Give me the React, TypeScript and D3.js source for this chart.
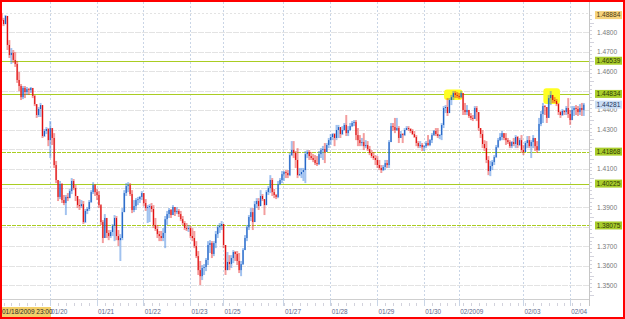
import React from 'react';
import * as d3 from 'd3';

// Hourly EUR/USD-style bars, 01/18/2009 23:00 .. 02/04/2009
const firstOpen = 1.4894;
const closes = [
  1.4863,1.4842,1.4884,1.4735,1.4683,1.4694,1.4658,1.4637,1.4555,1.4524,1.4467,1.4514,1.4493,1.4508,1.4503,1.4514,1.4473,1.4431,1.4375,1.4406,1.4426,1.4267,1.4293,1.4303,1.4246,
  1.4308,1.4257,1.4118,1.4041,1.3954,1.4020,1.3938,1.3923,1.3954,1.3948,1.3984,1.4036,1.4000,1.3959,1.3912,1.3907,1.3917,1.3825,1.3882,1.3892,1.3928,1.3979,1.4015,1.3979,
  1.3964,1.3912,1.3825,1.3743,1.3846,1.3769,1.3753,1.3774,1.3805,1.3846,1.3753,1.3732,1.3743,1.3876,1.3974,1.4010,1.4015,1.3969,1.3887,1.3907,1.3938,1.3943,1.3954,1.3974,
  1.3923,1.3897,1.3902,1.3907,1.3892,1.3810,1.3789,1.3763,1.3753,1.3743,1.3769,1.3840,1.3866,1.3887,1.3861,1.3902,1.3876,1.3882,1.3866,1.3840,1.3820,1.3794,1.3789,1.3794,
  1.3753,1.3743,1.3702,1.3650,1.3578,1.3547,1.3589,1.3594,1.3630,1.3707,1.3717,1.3661,1.3717,1.3763,1.3799,1.3805,1.3815,
  1.3707,1.3578,1.3620,1.3609,1.3640,1.3671,1.3661,1.3625,1.3578,1.3609,1.3681,1.3743,1.3799,1.3851,1.3876,1.3825,1.3917,1.3933,1.3907,1.3959,1.3943,1.3912,1.3979,1.4000,1.4041,1.3979,1.3964,1.3954,1.4020,1.4041,1.4071,
  1.4082,1.4077,1.4066,1.4169,1.4195,1.4180,1.4144,1.4066,1.4071,1.4082,1.4092,1.4174,1.4185,1.4164,1.4154,1.4144,1.4128,1.4123,1.4174,1.4195,1.4200,1.4185,1.4221,1.4246,
  1.4262,1.4277,1.4257,1.4298,1.4313,1.4277,1.4298,1.4324,1.4282,1.4298,1.4318,1.4334,1.4339,1.4272,1.4246,1.4231,1.4236,1.4215,1.4221,1.4200,1.4180,1.4164,1.4154,1.4144,
  1.4118,1.4103,1.4092,1.4108,1.4128,1.4118,1.4236,1.4318,1.4313,1.4298,1.4308,1.4257,1.4277,1.4272,1.4298,1.4308,1.4303,1.4293,1.4277,1.4262,1.4231,1.4215,1.4221,1.4210,
  1.4215,1.4231,1.4221,1.4246,1.4272,1.4293,1.4277,1.4267,1.4272,1.4324,1.4411,1.4416,1.4385,1.4452,1.4467,1.4488,1.4478,1.4473,
  1.4467,1.4488,1.4401,1.4390,1.4401,1.4370,1.4360,1.4355,1.4411,1.4390,1.4308,1.4277,1.4226,1.4205,1.4144,1.4087,1.4113,1.4133,1.4159,1.4210,1.4246,1.4262,1.4282,1.4257,1.4246,1.4236,1.4215,1.4236,1.4226,1.4262,1.4221,1.4246,1.4195,
  1.4185,1.4231,1.4246,1.4215,1.4236,1.4257,1.4215,1.4195,1.4329,1.4380,1.4421,1.4416,1.4360,1.4462,1.4478,1.4452,1.4447,1.4431,1.4390,1.4375,1.4396,1.4390,1.4411,1.4380,
  1.4349,1.4401,1.4411,1.4406,1.4390,1.4411,1.4401,1.4428,
];
const highs = [
  1.4900,1.4874,1.4889,1.4884,1.4760,1.4719,1.4709,1.4699,1.4653,1.4596,1.4534,1.4524,1.4524,1.4519,1.4514,1.4519,1.4508,1.4478,1.4431,1.4416,1.4437,1.4426,1.4303,1.4313,1.4308,
  1.4344,1.4298,1.4282,1.4139,1.4041,1.4036,1.4025,1.3964,1.3964,1.3974,1.3995,1.4051,1.4046,1.4015,1.3959,1.3943,1.3938,1.3933,1.3892,1.3902,1.3938,1.3989,1.4030,1.4020,
  1.3995,1.3984,1.3917,1.3835,1.3866,1.3846,1.3784,1.3784,1.3815,1.3861,1.3856,1.3784,1.3763,1.3897,1.3989,1.4025,1.4030,1.4025,1.3989,1.3938,1.3948,1.3954,1.3959,1.3984,
  1.3974,1.3943,1.3912,1.3917,1.3923,1.3912,1.3846,1.3810,1.3779,1.3779,1.3794,1.3856,1.3882,1.3897,1.3892,1.3912,1.3902,1.3902,1.3892,1.3882,1.3856,1.3830,1.3820,1.3810,
  1.3805,1.3794,1.3779,1.3727,1.3676,1.3625,1.3604,1.3609,1.3640,1.3727,1.3732,1.3727,1.3727,1.3779,1.3810,1.3820,1.3830,
  1.3815,1.3707,1.3671,1.3655,1.3655,1.3681,1.3676,1.3676,1.3666,1.3625,1.3691,1.3758,1.3810,1.3861,1.3897,1.3897,1.3933,1.3948,1.3948,1.3989,1.3969,1.3943,1.3989,1.4010,1.4066,1.4051,1.3995,1.3969,1.4036,1.4051,1.4087,
  1.4087,1.4092,1.4092,1.4180,1.4241,1.4241,1.4190,1.4205,1.4103,1.4103,1.4103,1.4190,1.4195,1.4195,1.4185,1.4174,1.4169,1.4164,1.4190,1.4205,1.4216,1.4231,1.4231,1.4257,
  1.4277,1.4282,1.4282,1.4324,1.4324,1.4308,1.4318,1.4334,1.4375,1.4318,1.4334,1.4344,1.4349,1.4349,1.4308,1.4272,1.4257,1.4282,1.4246,1.4241,1.4216,1.4195,1.4185,1.4169,
  1.4164,1.4144,1.4118,1.4118,1.4144,1.4144,1.4246,1.4334,1.4334,1.4360,1.4360,1.4318,1.4293,1.4282,1.4308,1.4318,1.4318,1.4308,1.4303,1.4293,1.4272,1.4241,1.4241,1.4231,
  1.4221,1.4241,1.4272,1.4251,1.4282,1.4298,1.4308,1.4308,1.4277,1.4334,1.4421,1.4426,1.4462,1.4462,1.4478,1.4498,1.4498,1.4493,
  1.4488,1.4498,1.4488,1.4437,1.4426,1.4396,1.4385,1.4375,1.4421,1.4421,1.4360,1.4308,1.4298,1.4246,1.4241,1.4164,1.4139,1.4144,1.4169,1.4221,1.4257,1.4282,1.4293,1.4282,1.4282,1.4257,1.4246,1.4241,1.4257,1.4272,1.4267,1.4257,1.4272,
  1.4221,1.4241,1.4267,1.4267,1.4246,1.4272,1.4257,1.4241,1.4360,1.4396,1.4437,1.4426,1.4411,1.4478,1.4498,1.4473,1.4467,1.4457,1.4437,1.4396,1.4406,1.4401,1.4421,1.4462,
  1.4401,1.4421,1.4421,1.4426,1.4421,1.4431,1.4437,1.4437,
];
const lows = [
  1.4858,1.4832,1.4842,1.4709,1.4668,1.4637,1.4643,1.4622,1.4540,1.4498,1.4452,1.4457,1.4462,1.4478,1.4478,1.4488,1.4462,1.4421,1.4360,1.4365,1.4365,1.4257,1.4262,1.4277,1.4215,
  1.4154,1.4221,1.4103,1.4025,1.3933,1.3943,1.3923,1.3912,1.3861,1.3933,1.3948,1.3969,1.3989,1.3933,1.3897,1.3887,1.3897,1.3815,1.3820,1.3866,1.3882,1.3923,1.3969,1.3959,
  1.3938,1.3897,1.3810,1.3717,1.3743,1.3743,1.3732,1.3743,1.3753,1.3727,1.3732,1.3702,1.3625,1.3732,1.3876,1.3959,1.3979,1.3959,1.3871,1.3876,1.3887,1.3912,1.3923,1.3938,
  1.3907,1.3882,1.3820,1.3825,1.3876,1.3794,1.3779,1.3743,1.3727,1.3727,1.3727,1.3691,1.3810,1.3846,1.3846,1.3861,1.3856,1.3866,1.3851,1.3830,1.3810,1.3784,1.3779,1.3774,
  1.3743,1.3727,1.3691,1.3640,1.3553,1.3501,1.3527,1.3553,1.3573,1.3604,1.3666,1.3640,1.3650,1.3691,1.3743,1.3769,1.3784,
  1.3691,1.3553,1.3589,1.3578,1.3589,1.3614,1.3625,1.3604,1.3563,1.3547,1.3604,1.3691,1.3727,1.3784,1.3830,1.3784,1.3825,1.3897,1.3887,1.3912,1.3933,1.3861,1.3917,1.3964,1.3974,1.3959,1.3948,1.3943,1.3948,1.4015,1.4025,
  1.4036,1.4051,1.4051,1.4061,1.4164,1.4154,1.4103,1.4051,1.4061,1.4051,1.4036,1.4025,1.4154,1.4144,1.4144,1.4133,1.4118,1.4113,1.4118,1.4154,1.4144,1.4128,1.4185,1.4205,
  1.4221,1.4246,1.4215,1.4246,1.4257,1.4257,1.4272,1.4293,1.4267,1.4267,1.4293,1.4313,1.4318,1.4246,1.4215,1.4215,1.4215,1.4195,1.4205,1.4190,1.4169,1.4154,1.4144,1.4118,
  1.4103,1.4092,1.4077,1.4087,1.4092,1.4103,1.4103,1.4241,1.4293,1.4282,1.4293,1.4231,1.4257,1.4231,1.4267,1.4298,1.4293,1.4282,1.4272,1.4257,1.4215,1.4205,1.4205,1.4190,
  1.4190,1.4205,1.4215,1.4215,1.4231,1.4267,1.4267,1.4257,1.4251,1.4246,1.4308,1.4385,1.4370,1.4401,1.4426,1.4452,1.4462,1.4462,
  1.4457,1.4462,1.4375,1.4375,1.4375,1.4360,1.4349,1.4344,1.4360,1.4344,1.4293,1.4257,1.4205,1.4190,1.4128,1.4066,1.4061,1.4092,1.4118,1.4154,1.4205,1.4241,1.4246,1.4246,1.4221,1.4226,1.4205,1.4205,1.4215,1.4205,1.4205,1.4215,1.4180,
  1.4169,1.4190,1.4205,1.4205,1.4154,1.4205,1.4190,1.4180,1.4190,1.4318,1.4334,1.4375,1.4334,1.4375,1.4426,1.4437,1.4437,1.4421,1.4375,1.4360,1.4370,1.4375,1.4375,1.4360,
  1.4324,1.4349,1.4370,1.4375,1.4370,1.4375,1.4370,1.4370,
];

const dateTickIndex = [25, 49, 73, 97, 114, 145, 169, 193, 217, 235, 268, 292];
const dateTickLabels = ['01/20', '01/21', '01/22', '01/23', '01/25', '01/27', '01/28', '01/29', '01/30', '02/2009', '02/03', '02/04'];
const startLabel = '01/18/2009 23:00';

const priceTicks = [1.35, 1.36, 1.37, 1.38, 1.39, 1.40, 1.41, 1.42, 1.43, 1.44, 1.45, 1.46, 1.47, 1.48];
const gridTicks = [...priceTicks, 1.49];

const levelValues = [1.46539, 1.44834, 1.41868, 1.40225, 1.38075];
const levelLabels = ['1.46539', '1.44834', '1.41868', '1.40225', '1.38075'];
const levelDashed = [false, false, true, false, true];
const highValue = 1.48884;
const highLabel = '1.48884';
const lastValue = 1.44281;
const lastLabel = '1.44281';

// highlighted swing-high zones, [first bar, last bar, top price, bottom price]
const highlightZones = [
  [228, 236, 1.4506, 1.4452],
  [279, 286, 1.4512, 1.4431],
];

const W = 625;
const H = 319;
const PLOT_L = 2;
const PLOT_R = 589;
const PLOT_B = 299;
const FONT = "'Liberation Sans', Arial, sans-serif";

export default function App() {
  const x = d3.scaleLinear().domain([0, closes.length - 1]).range([1.6, 583.8]);
  const y = d3.scaleLinear().domain([1.35, 1.48]).range([285.3, 32.3]);
  const bw = x(1) - x(0);

  const bars = closes.map((c, i) => {
    const o = i === 0 ? firstOpen : closes[i - 1];
    const h = Math.max(highs[i], o, c);
    const l = Math.min(lows[i], o, c);
    return { i, o, c, h, l, up: c >= o };
  });

  const crisp = (v: number) => Math.round(v) + 0.5;

  const rulerY = d3.range(1.345, 1.4905, 0.002);
  const rulerX = d3.range(1, closes.length, 4);

  // tick labels that sit fully under a value box are covered in the original
  const boxed = [...levelValues, highValue, lastValue];
  const visibleTicks = priceTicks.filter((t) => boxed.every((v) => Math.abs(y(t) - y(v)) >= 5));

  return (
    <svg
      width={W}
      height={H}
      style={{ position: 'absolute', left: 0, top: 0, background: '#fff' }}
      fontFamily={FONT}
    >
      <rect x={0} y={0} width={W} height={H} fill="#ffffff" />
      <defs>
        <clipPath id="plotclip">
          <rect x={PLOT_L} y={2} width={PLOT_R - PLOT_L} height={PLOT_B - 2} />
        </clipPath>
      </defs>

      {/* horizontal grid */}
      {gridTicks.map((t) => (
        <line key={'hg' + t} x1={PLOT_L} x2={PLOT_R} y1={crisp(y(t))} y2={crisp(y(t))}
          stroke="#e3e3e3" strokeWidth={1} strokeDasharray={t > 1.485 ? '2,2' : '6,1'} />
      ))}
      {/* vertical grid */}
      {dateTickIndex.map((d) => (
        <line key={'vg' + d} x1={crisp(x(d) - 0.5)} x2={crisp(x(d) - 0.5)} y1={2} y2={PLOT_B}
          stroke="#c9d5e6" strokeWidth={1} strokeDasharray="2,2" />
      ))}

      {/* level lines */}
      {levelValues.map((v, k) => (
        <line key={'lv' + k} x1={PLOT_L} x2={PLOT_R} y1={crisp(y(v))} y2={crisp(y(v))}
          stroke="#aacd22" strokeWidth={1} strokeDasharray={levelDashed[k] ? '4,1' : undefined} />
      ))}

      <g clipPath="url(#plotclip)">
        {highlightZones.map((z, k) => (
          <rect key={'hz' + k} x={x(z[0]) - 1.5} width={x(z[1]) - x(z[0]) + 3}
            y={y(z[2])} height={y(z[3]) - y(z[2])} rx={3} fill="#ffff22" />
        ))}
        {bars.map((b) => {
          const yt = y(Math.max(b.o, b.c));
          const yb = y(Math.min(b.o, b.c));
          const col = b.up ? '#2f78dc' : '#e52525';
          const dark = b.up ? '#1b5fc4' : '#e01010';
          return (
            <g key={'b' + b.i}>
              <rect x={x(b.i) - bw / 2} width={bw} y={y(b.h)} height={Math.max(1, y(b.l) - y(b.h))}
                fill={col} fillOpacity={0.45} />
              <rect x={x(b.i) - 0.55} width={1.1} y={yt} height={Math.max(1, yb - yt)} fill={dark} />
            </g>
          );
        })}
      </g>

      {/* plot frame right & bottom */}
      <line x1={PLOT_R + 0.5} x2={PLOT_R + 0.5} y1={2} y2={PLOT_B + 7} stroke="#c6c6c6" />
      <line x1={PLOT_L} x2={PLOT_R} y1={PLOT_B + 0.5} y2={PLOT_B + 0.5} stroke="#cfcfcf" />

      {/* right ruler */}
      {rulerY.map((v, k) => (
        <line key={'ry' + k} x1={PLOT_R + 1} x2={PLOT_R + (k % 5 === 0 ? 5 : 3)} y1={crisp(y(v))} y2={crisp(y(v))}
          stroke="#d2d2dc" />
      ))}
      {/* bottom ruler */}
      {rulerX.map((i) => (
        <line key={'rx' + i} x1={crisp(x(i))} x2={crisp(x(i))} y1={PLOT_B + 4} y2={PLOT_B + 7} stroke="#d2d2dc" />
      ))}
      {dateTickIndex.map((d) => (
        <line key={'dt' + d} x1={crisp(x(d) - 0.5)} x2={crisp(x(d) - 0.5)} y1={PLOT_B} y2={PLOT_B + 7} stroke="#c9d5e6" />
      ))}

      {/* price tick labels */}
      {visibleTicks.map((t) => (
        <text key={'pt' + t} x={597} y={y(t)} dy="0.35em" fontSize={6.6} fill="#7a7a7a">
          {t.toFixed(4)}
        </text>
      ))}

      {/* level label boxes */}
      {levelValues.map((v, k) => (
        <g key={'ll' + k}>
          <rect x={595} y={y(v) - 4} width={27} height={8} fill="#a9cd2c" />
          <text x={596.5} y={y(v)} dy="0.35em" fontSize={6.6} fill="#2e3a05">{levelLabels[k]}</text>
        </g>
      ))}
      <g>
        <rect x={595} y={y(highValue) - 4} width={27} height={8} fill="#f6d37c" />
        <text x={596.5} y={y(highValue)} dy="0.35em" fontSize={6.6} fill="#4a3a10">{highLabel}</text>
      </g>
      <g>
        <rect x={595} y={y(lastValue) - 4} width={27} height={8} fill="#c9ddf5" />
        <text x={596.5} y={y(lastValue)} dy="0.35em" fontSize={6.6} fill="#23365a">{lastLabel}</text>
      </g>

      {/* date labels */}
      {dateTickIndex.map((d, k) => (
        <text key={'dl' + d} x={x(d) + 1} y={312} dy="0.35em" fontSize={6.4} fill="#5c6a8c">
          {dateTickLabels[k]}
        </text>
      ))}
      <rect x={1} y={307} width={50} height={10} fill="#f3d06a" />
      <text x={2} y={312} dy="0.35em" fontSize={6.5} fill="#2a2a2a">{startLabel}</text>

      {/* outer red frame */}
      <rect x={1} y={1} width={W - 2} height={H - 2} fill="none" stroke="#ff0000" strokeWidth={2} />
    </svg>
  );
}
